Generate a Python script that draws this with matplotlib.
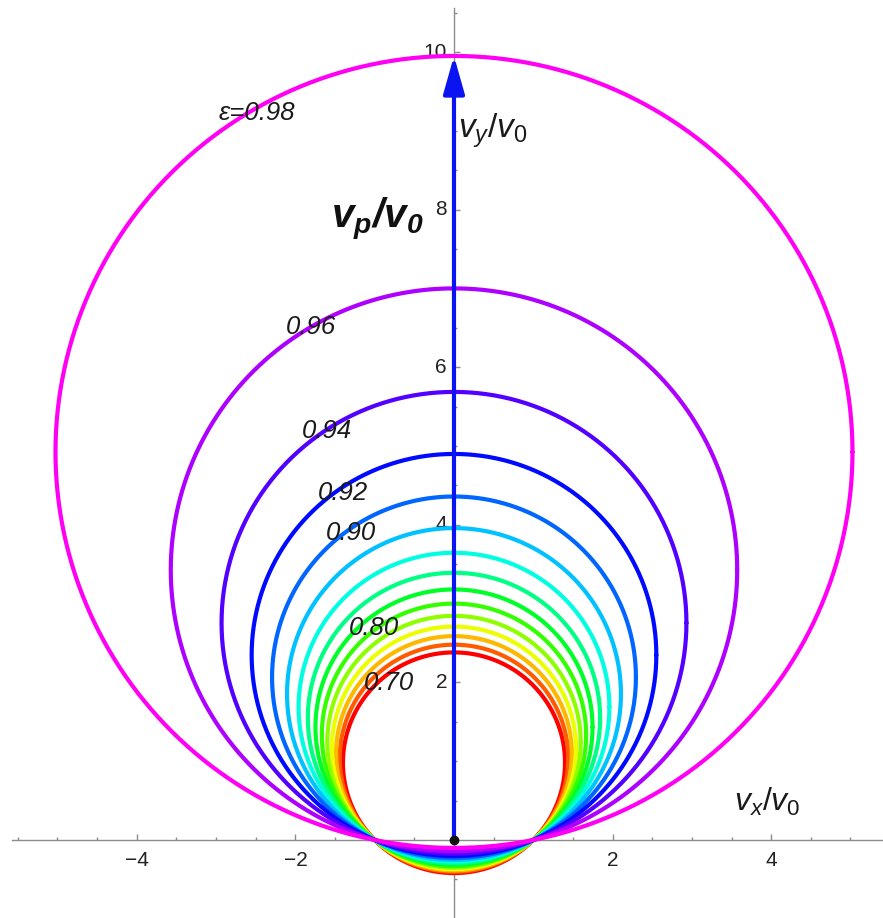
import numpy as np
import matplotlib
matplotlib.use("Agg")
import matplotlib.pyplot as plt
from matplotlib.colors import hsv_to_rgb
from matplotlib.patches import FancyArrowPatch
from matplotlib.ticker import MultipleLocator, FixedLocator

plt.rcParams['font.family'] = ['Liberation Sans', 'DejaVu Sans']
plt.rcParams['mathtext.fontset'] = 'custom'
plt.rcParams['mathtext.rm'] = 'Liberation Sans'
plt.rcParams['mathtext.it'] = 'Liberation Sans:italic'
plt.rcParams['mathtext.bf'] = 'Liberation Sans:bold:italic'

# Orbit eccentricities, one velocity hodograph each
eccentricities = [0.70, 0.72, 0.74, 0.76, 0.78, 0.80, 0.82, 0.84,
                  0.86, 0.88, 0.90, 0.92, 0.94, 0.96, 0.98]

# Curve labels and their positions
label_texts = ["0.96", "0.94", "0.92", "0.90", "0.80", "0.70"]
label_x = [-1.80, -1.60, -1.40, -1.30, -1.01, -0.82]
label_y = [6.51, 5.19, 4.40, 3.90, 2.69, 1.99]

x_tick_values = [-4, -2, 2, 4]
y_tick_values = [2, 4, 6, 8, 10]

fig = plt.figure(figsize=(8.83, 9.18), dpi=100)
ax = fig.add_axes([0, 0, 1, 1])
ax.set_xlim(-5.725, 5.41)
ax.set_ylim(-0.99, 10.66)

theta = np.linspace(0, 2 * np.pi, 721)
for e in eccentricities:
    radius = 1.0 / np.sqrt(1.0 - e ** 2)
    centre = e * radius
    hue = (e - 0.70) * 3.0
    color = hsv_to_rgb((hue, 1.0, 1.0))
    ax.plot(radius * np.cos(theta), centre + radius * np.sin(theta),
            color=color, lw=3.0, solid_capstyle='round', zorder=2)

# Periapsis velocity vector
e_max = eccentricities[-1]
v_peri = np.sqrt((1 + e_max) / (1 - e_max))
arrow = FancyArrowPatch((0, 0), (0, v_peri),
                        arrowstyle='-|>,head_length=2.3,head_width=0.65',
                        mutation_scale=10, lw=3.0, color='#0a14f0',
                        shrinkA=0, shrinkB=0, zorder=4)
ax.add_patch(arrow)
ax.plot([0], [0], 'o', color='#111111', ms=6, zorder=5)

# Axes through the origin
for side in ['top', 'right']:
    ax.spines[side].set_visible(False)
ax.spines['left'].set_position(('data', 0))
ax.spines['bottom'].set_position(('data', 0))
ax.spines['left'].set_bounds(-0.99, 10.56)
ax.spines['bottom'].set_bounds(-5.57, 5.41)
for s in ['left', 'bottom']:
    ax.spines[s].set_color('#8c8c8c')
    ax.spines[s].set_linewidth(1.0)
    ax.spines[s].set_zorder(1)

ax.xaxis.set_major_locator(FixedLocator(x_tick_values))
ax.yaxis.set_major_locator(FixedLocator(y_tick_values))
ax.xaxis.set_minor_locator(MultipleLocator(0.5))
ax.yaxis.set_minor_locator(MultipleLocator(0.5))
ax.tick_params(which='both', direction='in', color='#8c8c8c', width=1.0)
ax.tick_params(which='major', length=4.0)
ax.tick_params(which='minor', length=2.2)
ax.tick_params(axis='x', which='major', pad=8, labelsize=15, labelcolor='#222222')
ax.tick_params(axis='y', which='major', pad=5, labelsize=15, labelcolor='#222222')
ax.set_xticklabels([f"\u2212{abs(v)}" if v < 0 else str(v) for v in x_tick_values])
ax.set_yticklabels([str(v) for v in y_tick_values])
for lbl in ax.get_yticklabels():
    lbl.set_verticalalignment('center')

# Text annotations
ax.text(-2.48, 9.23, "\u03b5=0.98", fontsize=18.5, style='italic',
        ha='center', va='center', color='#1a1a1a', zorder=6)
for t, x, y in zip(label_texts, label_x, label_y):
    ax.text(x, y, t, fontsize=18.5, style='italic', ha='center', va='center',
            color='#1a1a1a', zorder=6)
ax.text(0.05, 9.0, r"$v_y/v_0$", fontsize=24, ha='left', va='center',
        color='#1a1a1a', zorder=6)
ax.text(-0.38, 7.88, r"$\mathbf{v_p/v_0}$", fontsize=29, ha='right', va='center',
        color='#111111', zorder=6)
ax.text(3.95, 0.48, r"$v_x/v_0$", fontsize=23, ha='center', va='center',
        color='#1a1a1a', zorder=6)

fig.savefig("out.png", dpi=100)
